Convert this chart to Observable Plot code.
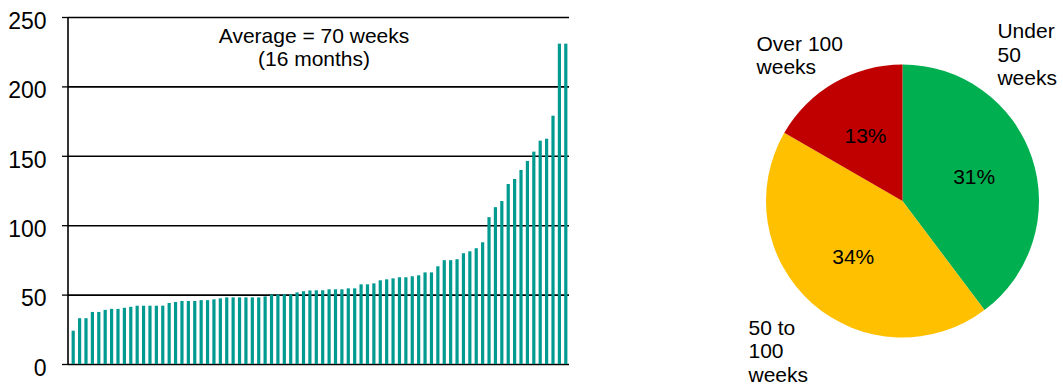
<!DOCTYPE html>
<html>
<head>
<meta charset="utf-8">
<script src="https://cdn.jsdelivr.net/npm/d3@7"></script>
<script src="https://cdn.jsdelivr.net/npm/@observablehq/plot@0.6"></script>
<style>
  body { margin: 0; background: #fff; }
  #wrap { position: relative; width: 1063px; height: 385px; overflow: hidden; }
  #bars { position: absolute; left: 0; top: 0; }
  #pie { position: absolute; left: 600px; top: 0; }
</style>
</head>
<body>
<div id="wrap"><div id="bars"></div><div id="pie"></div></div>
<script>
// Duration of each case in weeks, sorted ascending
const weeks = [
  24, 33, 33, 37.5, 37.5, 39, 39.7, 39.7, 40.5, 41.2,
  42, 42, 42, 42, 42, 44, 44.7, 45.4, 45.4, 45.4,
  46, 46, 46.6, 47.3, 48, 48, 48, 48, 48, 48,
  48.7, 50, 50, 50.2, 50.2, 51.6, 52.4, 53, 53.1, 53.1,
  53.8, 53.8, 53.8, 54.5, 54.5, 57.4, 57.4, 58.1, 60.3, 61,
  61.7, 62.5, 62.5, 63.2, 63.9, 66, 66, 70.4, 74.8, 74.8,
  75.5, 79.8, 81.2, 83.4, 87.7, 105.8, 113, 117.4, 129.7, 133.3,
  139.8, 146.3, 153, 160.9, 162.3, 178.9, 230.8, 230.8
];
const weekTicks = [0, 50, 100, 150, 200, 250];
const averageNote = "Average = 70 weeks\n(16 months)";

// Breakdown of the same cases by duration band
const bands = ["Under 50 weeks", "50 to 100 weeks", "Over 100 weeks"];
const bandCounts = [31, 34, 13];
const bandLabels = ["Under\n50\nweeks", "50 to\n100\nweeks", "Over 100\nweeks"];
const bandColors = ["#00B050", "#FFC000", "#C00000"];

const FONT = "'Liberation Sans', Arial, Helvetica, sans-serif";
const BAR_COLOR = "#009A91";

// ---------- Column chart ----------
const barRows = weeks.map((v, i) => ({i, v}));

const bars = Plot.plot({
  width: 600,
  height: 385,
  marginLeft: 68,
  marginRight: 31,
  marginTop: 17,
  marginBottom: 21,
  style: {fontFamily: FONT, fontSize: "21px", color: "#000", background: "transparent", overflow: "visible"},
  x: {type: "band", domain: d3.range(weeks.length), paddingInner: 0.5, paddingOuter: 0.25, insetLeft: 2, axis: null},
  y: {domain: [0, 250], axis: null},
  marks: [
    Plot.ruleY(weekTicks, {stroke: "#000", strokeWidth: 1.6}),
    Plot.barY(barRows, {x: "i", y: "v", fill: BAR_COLOR}),
    // value axis line
    (index, scales, values, dims) => {
      const line = d3.create("svg:line")
        .attr("x1", dims.marginLeft).attr("x2", dims.marginLeft)
        .attr("y1", scales.y(0)).attr("y2", scales.y(250))
        .attr("stroke", "#000").attr("stroke-width", 1.6);
      return line.node();
    },
    Plot.axisY(weekTicks, {tickSize: 6, tickFormat: () => "", stroke: "#000", strokeWidth: 1.3, label: null}),
    Plot.axisY(weekTicks, {tickSize: 0, tickPadding: 22, dy: 4, fontSize: 23, fill: "#000", label: null}),
    Plot.text([averageNote], {frameAnchor: "top", lineAnchor: "top", dx: -5, dy: 9, lineHeight: 1.1, fontSize: 21, fill: "#000"})
  ]
});
document.getElementById("bars").append(bars);

// ---------- Pie chart ----------
const pieRows = bands.map((name, k) => ({name, count: bandCounts[k], label: bandLabels[k], color: bandColors[k]}));
const slices = d3.pie().sort(null).value(d => d.count)(pieRows);
const mid = s => (s.startAngle + s.endAngle) / 2;

// where each band's name sits, in the pie's unit coordinates
const nameSpots = {
  "Under 50 weeks": [0.692, 1.321],
  "50 to 100 weeks": [-1.132, -0.852],
  "Over 100 weeks": [-1.073, 1.229]
};

const pie = Plot.plot({
  width: 463,
  height: 385,
  margin: 0,
  style: {fontFamily: FONT, fontSize: "21px", color: "#000", background: "transparent", overflow: "visible"},
  x: {domain: [-1, 1], range: [166, 439], axis: null},
  y: {domain: [-1, 1], range: [337.5, 64.5], axis: null},
  marks: [
    (index, scales) => {
      const cx = scales.x(0), cy = scales.y(0), r = scales.x(1) - scales.x(0);
      const arc = d3.arc().innerRadius(0).outerRadius(r);
      const g = d3.create("svg:g").attr("transform", `translate(${cx},${cy})`);
      g.selectAll("path").data(slices).join("path")
        .attr("d", arc)
        .attr("fill", d => d.data.color);
      return g.node();
    },
    Plot.text(slices, {
      x: s => 0.55 * Math.sin(mid(s)),
      y: s => 0.55 * Math.cos(mid(s)),
      text: s => `${s.data.count}%`,
      fontSize: 21,
      fill: "#000"
    }),
    Plot.text(pieRows, {
      x: d => nameSpots[d.name][0],
      y: d => nameSpots[d.name][1],
      text: "label",
      textAnchor: "start",
      lineAnchor: "top",
      lineHeight: 1.13,
      fontSize: 21,
      fill: "#000"
    })
  ]
});
document.getElementById("pie").append(pie);
</script>
</body>
</html>
